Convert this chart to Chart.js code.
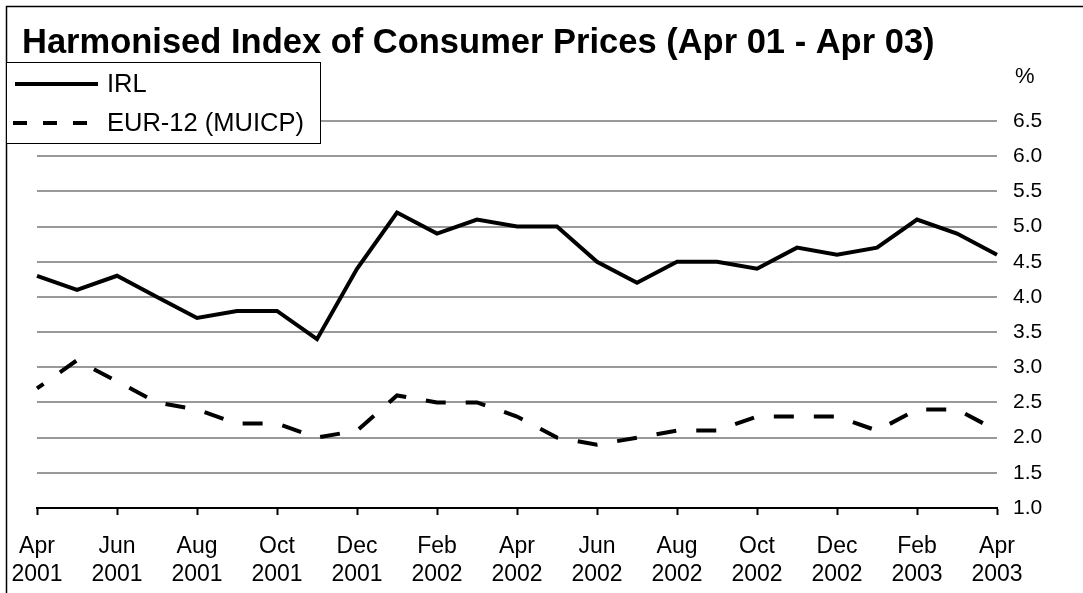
<!DOCTYPE html>
<html>
<head>
<meta charset="utf-8">
<script src="https://cdn.jsdelivr.net/npm/chart.js@4.4.1/dist/chart.umd.min.js"></script>
<style>
  html, body { margin: 0; padding: 0; background: #fff; }
  canvas { display: block; }
</style>
</head>
<body>
<canvas id="c" width="1083" height="593"></canvas>
<script>
const TITLE = 'Harmonised Index of Consumer Prices (Apr 01 - Apr 03)';
const UNIT = '%';
const months = ['Apr','May','Jun','Jul','Aug','Sep','Oct','Nov','Dec','Jan','Feb','Mar','Apr','May','Jun','Jul','Aug','Sep','Oct','Nov','Dec','Jan','Feb','Mar','Apr'];
const years  = ['2001','2001','2001','2001','2001','2001','2001','2001','2001','2002','2002','2002','2002','2002','2002','2002','2002','2002','2002','2002','2002','2003','2003','2003','2003'];
const irl    = [4.3,4.1,4.3,4.0,3.7,3.8,3.8,3.4,4.4,5.2,4.9,5.1,5.0,5.0,4.5,4.2,4.5,4.5,4.4,4.7,4.6,4.7,5.1,4.9,4.6];
const eur12  = [2.7,3.1,2.8,2.5,2.4,2.2,2.2,2.0,2.1,2.6,2.5,2.5,2.3,2.0,1.9,2.0,2.1,2.1,2.3,2.3,2.3,2.1,2.4,2.4,2.1];
const seriesNames = ['IRL', 'EUR-12 (MUICP)'];
const yMin = 1.0, yMax = 6.5, yStep = 0.5;

const labels = months.map((m, i) => [m, years[i]]);
const FONT = '"Liberation Sans", Arial, sans-serif';

const decor = {
  id: 'decor',
  beforeDraw(chart) {
    const ctx = chart.ctx;
    ctx.save();
    ctx.fillStyle = '#fff';
    ctx.fillRect(0, 0, chart.width, chart.height);
    ctx.restore();
  },
  afterDraw(chart) {
    const ctx = chart.ctx;
    ctx.save();
    // outer frame (top and left visible)
    ctx.strokeStyle = '#000';
    ctx.lineWidth = 1.5;
    ctx.beginPath();
    ctx.moveTo(6.5, chart.height + 2);
    ctx.lineTo(6.5, 6.5);
    ctx.lineTo(chart.width + 2, 6.5);
    ctx.stroke();

    // title
    ctx.fillStyle = '#000';
    ctx.font = 'bold 34.5px ' + FONT;
    ctx.textBaseline = 'alphabetic';
    ctx.textAlign = 'left';
    ctx.fillText(TITLE, 22, 53);

    // legend box
    ctx.fillStyle = '#fff';
    ctx.fillRect(7, 62, 314, 81);
    ctx.strokeStyle = '#000';
    ctx.lineWidth = 1;
    ctx.strokeRect(6.5, 62.5, 314, 81);

    const ds = chart.data.datasets;
    // IRL sample
    ctx.lineWidth = 4;
    ctx.lineCap = 'butt';
    ctx.setLineDash([]);
    ctx.beginPath(); ctx.moveTo(15, 84); ctx.lineTo(98, 84); ctx.stroke();
    // EUR sample
    ctx.setLineDash([14, 16]);
    ctx.beginPath(); ctx.moveTo(13, 123); ctx.lineTo(90, 123); ctx.stroke();
    ctx.setLineDash([]);

    ctx.fillStyle = '#000';
    ctx.font = '25.5px ' + FONT;
    ctx.textBaseline = 'middle';
    ctx.fillText(ds[0].label, 107, 85);
    ctx.fillText(ds[1].label, 107, 124);

    // unit label
    ctx.font = '22px ' + FONT;
    ctx.fillText(UNIT, 1015, 77);
    ctx.restore();
  }
};

new Chart(document.getElementById('c'), {
  type: 'line',
  data: {
    labels: labels,
    datasets: [
      { label: seriesNames[0], data: irl, borderColor: '#000', borderWidth: 4, pointRadius: 0, tension: 0, fill: false },
      { label: seriesNames[1], data: eur12, borderColor: '#000', borderWidth: 4, pointRadius: 0, tension: 0, fill: false, borderDash: [20, 20], borderDashOffset: 12 }
    ]
  },
  options: {
    responsive: false,
    animation: false,
    devicePixelRatio: 1,
    layout: { padding: { left: 37, top: 121, right: 0, bottom: 0 } },
    plugins: { legend: { display: false }, title: { display: false }, tooltip: { enabled: false } },
    scales: {
      x: {
        type: 'category',
        offset: false,
        afterFit(s) { s.height = 85; s.paddingLeft = 0; s.paddingRight = 0; },
        grid: {
          display: true, drawOnChartArea: false, drawTicks: true, tickLength: 7, tickWidth: 2,
          tickColor: (c) => (c.index % 2 === 0 ? '#000' : 'rgba(0,0,0,0)')
        },
        border: { display: true, color: '#000', width: 2 },
        ticks: {
          autoSkip: false, maxRotation: 0, minRotation: 0, padding: 18, color: '#000',
          font: { family: FONT, size: 23, lineHeight: 1.22 },
          callback: function (v, i) { return i % 2 === 0 ? this.getLabelForValue(v) : ''; }
        }
      },
      y: {
        position: 'right',
        min: yMin, max: yMax,
        afterFit(s) { s.width = 86; s.paddingTop = 0; s.paddingBottom = 0; },
        grid: { color: '#999', lineWidth: 2, drawTicks: false },
        border: { display: false },
        ticks: {
          stepSize: yStep, padding: 16, color: '#000',
          font: { family: FONT, size: 21 },
          callback: (v) => Number(v).toFixed(1)
        }
      }
    }
  },
  plugins: [decor]
});
</script>
</body>
</html>
